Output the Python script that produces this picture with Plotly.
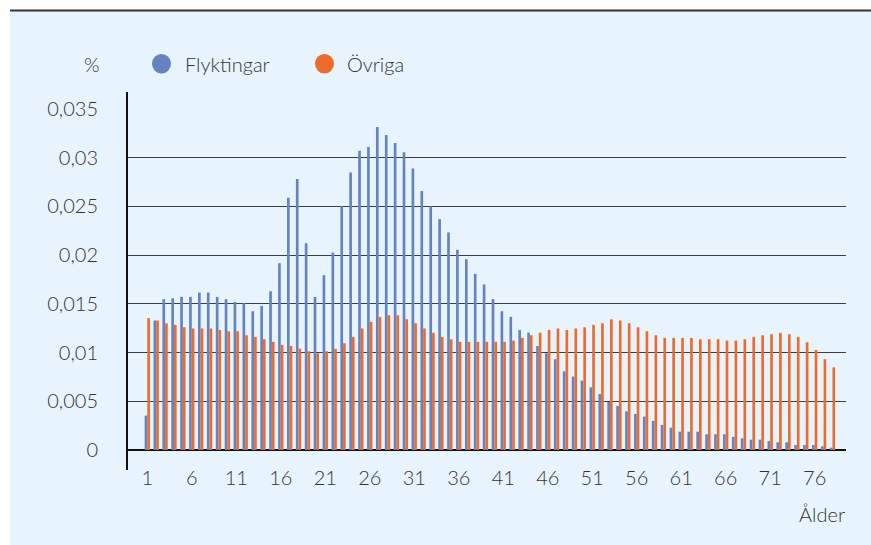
import plotly.graph_objects as go

ages = list(range(1, 79))

flyktingar = [
    0.00353, 0.01329, 0.01548, 0.01558, 0.01572, 0.01572, 0.01616, 0.01616, 0.01572, 0.01548,
    0.01521, 0.01507, 0.01425, 0.01479, 0.01630, 0.01918, 0.02589, 0.02781, 0.02123, 0.01572,
    0.01795, 0.02027, 0.02503, 0.02849, 0.03072, 0.03110, 0.03315, 0.03233, 0.03151, 0.03055,
    0.02890, 0.02658, 0.02500, 0.02370, 0.02233, 0.02055, 0.01959, 0.01808, 0.01699, 0.01548,
    0.01425, 0.01366, 0.01233, 0.01205, 0.01068, 0.00993, 0.00932, 0.00808, 0.00753, 0.00712,
    0.00644, 0.00575, 0.00493, 0.00452, 0.00397, 0.00370, 0.00342, 0.00298, 0.00257, 0.00229,
    0.00188, 0.00188, 0.00188, 0.00161, 0.00161, 0.00161, 0.00134, 0.00120, 0.00106, 0.00106,
    0.00092, 0.00079, 0.00079, 0.00051, 0.00051, 0.00051, 0.00038, 0.00024,
]

ovriga = [
    0.01353, 0.01329, 0.01301, 0.01284, 0.01260, 0.01247, 0.01247, 0.01247, 0.01233, 0.01219,
    0.01219, 0.01178, 0.01161, 0.01137, 0.01110, 0.01079, 0.01068, 0.01041, 0.01014, 0.00993,
    0.01014, 0.01038, 0.01096, 0.01161, 0.01247, 0.01315, 0.01366, 0.01384, 0.01384, 0.01342,
    0.01301, 0.01247, 0.01202, 0.01161, 0.01137, 0.01110, 0.01110, 0.01110, 0.01110, 0.01110,
    0.01110, 0.01123, 0.01151, 0.01178, 0.01205, 0.01233, 0.01247, 0.01233, 0.01247, 0.01260,
    0.01284, 0.01301, 0.01342, 0.01329, 0.01301, 0.01260, 0.01219, 0.01178, 0.01151, 0.01151,
    0.01151, 0.01151, 0.01137, 0.01137, 0.01137, 0.01123, 0.01123, 0.01137, 0.01161, 0.01178,
    0.01188, 0.01202, 0.01188, 0.01161, 0.01106, 0.01027, 0.00932, 0.00849,
]

x_tickvals = [1, 6, 11, 16, 21, 26, 31, 36, 41, 46, 51, 56, 61, 66, 71, 76]
x_ticktext = [str(v) for v in x_tickvals]
y_tickvals = [0, 0.005, 0.01, 0.015, 0.02, 0.025, 0.03, 0.035]
y_ticktext = ["0", "0,005", "0,01", "0,015", "0,02", "0,025", "0,03", "0,035"]

series_names = ["Flyktingar", "Övriga"]
BLUE = "#6384BF"
ORANGE = "#ED6B2C"
BG = "#E8F4FD"
TXT = "#333333"
FONT = "Lato"

W, H = 871, 545
L, R, T, B = 127, 25, 109, 95
PW, PH = W - L - R, H - T - B


def px(x):
    return (x - L) / PW


def py(y):
    return (H - B - y) / PH


fig = go.Figure()
fig.add_trace(go.Bar(x=ages, y=flyktingar, name=series_names[0], marker=dict(color=BLUE, line=dict(width=0)), showlegend=False))
fig.add_trace(go.Bar(x=ages, y=ovriga, name=series_names[1], marker=dict(color=ORANGE, line=dict(width=0)), showlegend=False))

shapes = [
    dict(type="rect", xref="paper", yref="paper", x0=px(10), x1=px(W + 5), y0=py(H + 5), y1=py(10),
         fillcolor=BG, line=dict(width=0), layer="below"),
    dict(type="line", xref="paper", yref="paper", x0=px(10), x1=px(W + 5), y0=py(10.5), y1=py(10.5),
         line=dict(color="#333333", width=2)),
    dict(type="line", xref="paper", yref="paper", x0=px(127), x1=px(127), y0=py(470), y1=py(92),
         line=dict(color="#111111", width=2)),
    dict(type="circle", xref="paper", yref="paper", x0=px(152), x1=px(171), y0=py(73.5), y1=py(54),
         fillcolor=BLUE, line=dict(width=0)),
    dict(type="circle", xref="paper", yref="paper", x0=px(315), x1=px(334), y0=py(73.5), y1=py(54),
         fillcolor=ORANGE, line=dict(width=0)),
]

font = dict(family=FONT, size=20, color=TXT, weight=300)
annotations = [
    dict(text="%", xref="paper", yref="paper", x=px(92), y=py(64), xanchor="center", yanchor="middle",
         showarrow=False, font=font),
    dict(text=series_names[0], xref="paper", yref="paper", x=px(183), y=py(64), xanchor="left", yanchor="middle",
         showarrow=False, font=font),
    dict(text=series_names[1], xref="paper", yref="paper", x=px(345), y=py(64), xanchor="left", yanchor="middle",
         showarrow=False, font=font),
    dict(text="Ålder", xref="paper", yref="paper", x=px(847), y=py(514), xanchor="right", yanchor="middle",
         showarrow=False, font=font),
]

fig.update_layout(
    width=W, height=H,
    margin=dict(l=L, r=R, t=T, b=B, pad=0),
    paper_bgcolor="white",
    plot_bgcolor="rgba(0,0,0,0)",
    barmode="group", bargap=0.4, bargroupgap=0,
    font=font,
    shapes=shapes,
    annotations=annotations,
    showlegend=False,
)
fig.update_xaxes(
    range=[-1.28, 79.52], tickmode="array", tickvals=x_tickvals, ticktext=x_ticktext,
    showgrid=False, zeroline=False, showline=False,
    ticks="outside", ticklen=10, tickcolor="rgba(0,0,0,0)",
    tickfont=font,
)
fig.update_yaxes(
    range=[0, 0.035], tickmode="array", tickvals=y_tickvals, ticktext=y_ticktext,
    showgrid=True, gridcolor="#3d3d3d", gridwidth=1,
    zeroline=True, zerolinecolor="#111111", zerolinewidth=2,
    showline=False,
    ticks="outside", ticklen=24, tickcolor="rgba(0,0,0,0)",
    tickfont=font,
)

fig.write_html(
    "out.html",
    config={"displayModeBar": False},
    post_script="document.body.style.margin='0';document.body.style.overflow='hidden';",
)
